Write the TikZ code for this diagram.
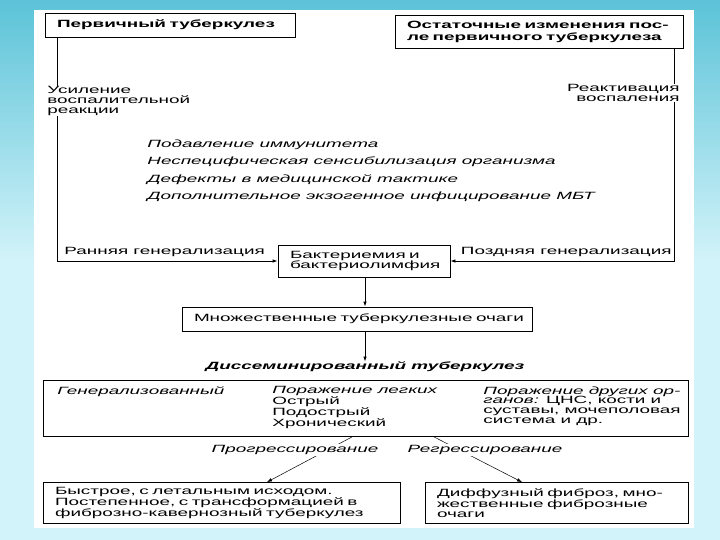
\documentclass[tikz,border=0pt]{standalone}
\usepackage{fontspec}
\setmainfont{Liberation Sans}[FakeStretch=1.8]
\usetikzlibrary{arrows.meta}
\definecolor{slidebg}{HTML}{D2F3F9}
\definecolor{slideteal}{HTML}{5CC3D8}

\begin{document}
\begin{tikzpicture}[x=1pt,y=-1pt,line width=0.8pt,
  box/.style={draw,inner xsep=12pt,inner ysep=0pt,align=left,
    font=\fontsize{10.5}{9.7}\selectfont},
  txt/.style={inner sep=0pt,align=left,font=\fontsize{10.5}{9.7}\selectfont},
  arr/.style={-{Latex[length=5pt,width=3.5pt]}}]
  % slide background
  \useasboundingbox (0,0) rectangle (720,540);
  \fill[slidebg] (0,0) rectangle (720,540);
  \shade[top color=slideteal,bottom color=slidebg] (0,0) rectangle (720,260);
  \fill[white] (34,10) rectangle (694,528);

  % top boxes
  \node[box,text width=226pt,minimum height=24pt,font=\fontsize{10.5}{12}\selectfont\bfseries]
    (prim) at (170,25) {Первичный туберкулез};
  \node[box,text width=264pt,minimum height=33pt,font=\fontsize{10.5}{12}\selectfont\bfseries]
    (resid) at (539,31.5) {Остаточные изменения пос-\\ле первичного туберкулеза};
  \node[txt,anchor=north west] (usil) at (47,86) {Усиление\\воспалительной\\реакции};
  \node[txt,anchor=north east,align=right] (react) at (680,84) {Реактивация\\воспаления};

  % factors
  \node[txt,anchor=north west,font=\fontsize{10.5}{17.5}\selectfont\itshape] (factors) at (147,139)
    {Подавление иммунитета\\Неспецифическая сенсибилизация организма\\
     Дефекты в медицинской тактике\\Дополнительное экзогенное инфицирование МБТ};

  % middle chain
  \node[box,text width=148pt,minimum height=32pt] (bact) at (364,261) {Бактериемия и\\бактериолимфия};
  \node[txt,anchor=south west] (early) at (64,257) {Ранняя генерализация};
  \node[txt,anchor=south east] (late) at (672,257) {Поздняя генерализация};
  \node[box,inner xsep=7pt,text width=336pt,minimum height=24pt] (mult) at (357,319) {\hspace*{5pt}Множественные туберкулезные очаги};
  \node[txt,font=\fontsize{10.5}{9.7}\selectfont\bfseries\itshape] (diss) at (365,367) {Диссеминированный туберкулез};

  % forms
  \node[draw,minimum width=645pt,minimum height=56pt,inner sep=0pt] (forms) at (365.5,408) {};
  \node[txt,anchor=north west] (gen) at (57,386) {\itshape Генерализованный};
  \node[txt,anchor=north west] (lung) at (272,386) {\itshape Поражение легких\\Острый\\Подострый\\Хронический};
  \node[txt,anchor=north west] (other) at (483,386)
    {\itshape Поражение других ор-\\\itshape ганов: \upshape ЦНС, кости и\\суставы, мочеполовая\\система и др.};

  % outcomes
  \node[box,text width=333pt,minimum height=41pt] (fast) at (221.5,503) {Быстрое, с летальным исходом.\\Постепенное, с трансформацией в\\фиброзно-кавернозный туберкулез};
  \node[box,text width=239pt,minimum height=41pt] (fibr) at (556.5,503) {Диффузный фиброз, мно-\\жественные фиброзные\\очаги};

  % connectors
  \draw (prim.south -| 57,0) -- (usil.north -| 57,0);
  \draw[arr] (usil.south -| 57,0) |- (bact.west);
  \draw (resid.south -| 674,0) -- (react.north -| 674,0);
  \draw[arr] (react.south -| 674,0) |- (bact.east);
  \draw[arr] (bact.south -| 365,0) -- (mult.north -| 365,0);
  \draw[arr] (mult.south -| 365,0) -- (diss.north -| 365,0);
  \draw[arr,line width=0.5pt] (forms.south -| 353,0) -- (fast.north -| 267,0);
  \draw[arr,line width=0.5pt] (forms.south -| 433,0) -- (fibr.north -| 522,0);
  \node[txt,fill=white,inner sep=1pt,font=\fontsize{10.5}{9.7}\selectfont\itshape] (progr) at (295,450) {Прогрессирование};
  \node[txt,fill=white,inner sep=1pt,font=\fontsize{10.5}{9.7}\selectfont\itshape] (regr) at (485,450) {Регрессирование};
\end{tikzpicture}
\end{document}
